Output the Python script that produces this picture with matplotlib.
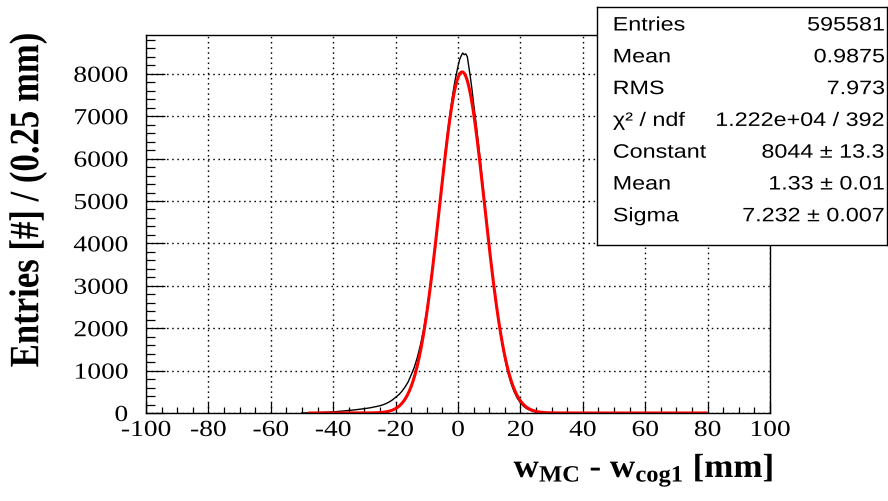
import numpy as np
import matplotlib
matplotlib.use("Agg")
import matplotlib.pyplot as plt
from matplotlib.ticker import MultipleLocator
from matplotlib.patheffects import AbstractPathEffect
from matplotlib.transforms import Affine2D

# Histogram of w_MC - w_cog1 (counts per 0.25 mm bin), sampled along the distribution
bin_centres_mm = [-50, -49, -48, -47, -46, -45, -44, -43, -42, -41, -40, -39, -38, -37,
                  -36, -35, -34, -33, -32, -31, -30, -29, -28, -27, -26, -25, -24, -23,
                  -22, -21, -20, -19, -18, -17, -16, -15, -14, -13, -12, -11, -10, -9,
                  -8, -7, -6, -5, -4, -3, -2, -1.5, -1, -0.5, 0, 0.5, 1, 1.5, 2, 2.5,
                  3, 3.5, 4, 4.5, 5, 6, 7, 8, 9, 10, 11, 12, 13, 14, 15, 16, 17, 18,
                  19, 20, 21, 22, 23, 24, 25, 26, 27, 28, 29, 30]
entries = [0, 0, 2, 4, 6, 9, 12, 15, 19, 23, 28, 33, 40, 46,
           53, 60, 67, 75, 84, 93, 103, 113, 125, 140, 155, 172, 195, 225,
           262, 310, 370, 430, 510, 610, 730, 900, 1080, 1320, 1620, 1980, 2420, 2950,
           3540, 4170, 4850, 5530, 6200, 6820, 7360, 7600, 7820, 8000, 8180, 8330, 8420, 8490, 8450, 8470,
           8400, 8150, 7900, 7620, 7300, 6700, 6050, 5350, 4650, 3960, 3300, 2700, 2160, 1690, 1290, 960, 700, 500,
           350, 240, 160, 105, 68, 42, 26, 15, 9, 5, 2, 0]

# Gaussian fit result
fit_constant = 8044.0
fit_mean = 1.33
fit_sigma = 7.232
fit_range = (-47.5, 79.5)

# Statistics box rows
stat_names = ["Entries", "Mean", "RMS", "\u03c7\u00b2 / ndf", "Constant", "Mean", "Sigma"]
stat_values = ["595581", "0.9875", "7.973", "1.222e+04 / 392",
               "8044 \u00b1 13.3", "1.33 \u00b1 0.01", "7.232 \u00b1 0.007"]

x_ticks = [-100, -80, -60, -40, -20, 0, 20, 40, 60, 80, 100]
y_ticks = [0, 1000, 2000, 3000, 4000, 5000, 6000, 7000, 8000]


class Stretch(AbstractPathEffect):
    """Draw text glyphs widened by (sx, sy) about an anchor of the glyph outline."""

    def __init__(self, sx=1.0, sy=1.0, anchor="center"):
        super().__init__()
        self.sx, self.sy, self.anchor = sx, sy, anchor

    def draw_path(self, renderer, gc, tpath, affine, rgbFace=None):
        ext = tpath.get_extents()
        cx = {"left": ext.x0, "right": ext.x1, "center": 0.5 * (ext.x0 + ext.x1)}[self.anchor]
        cy = 0.5 * (ext.y0 + ext.y1)
        t = Affine2D().translate(-cx, -cy).scale(self.sx, self.sy).translate(cx, cy) + affine
        renderer.draw_path(gc, tpath, t, rgbFace)


plt.rcParams["axes.unicode_minus"] = False
plt.rcParams["mathtext.fontset"] = "custom"
plt.rcParams["mathtext.rm"] = "Liberation Serif"
plt.rcParams["mathtext.bf"] = "Liberation Serif:bold"
plt.rcParams["mathtext.it"] = "Liberation Serif:italic"

W, H = 888, 501
WIDEN = 1.2
fig = plt.figure(figsize=(W / 100, H / 100), dpi=100)
fig.patch.set_facecolor("white")

ax_l, ax_r, ax_t, ax_b = 146, 770, 35, 413
ax = fig.add_axes([ax_l / W, 1 - ax_b / H, (ax_r - ax_l) / W, (ax_b - ax_t) / H])

ax.plot(bin_centres_mm, entries, color="black", lw=1.0, zorder=3)

xf = np.linspace(fit_range[0], fit_range[1], 600)
yf = fit_constant * np.exp(-0.5 * ((xf - fit_mean) / fit_sigma) ** 2)
ax.plot(xf, yf, color="#ff0000", lw=2.2, zorder=4)

ax.set_xlim(-100, 100)
ax.set_ylim(0, 1.05 * max(entries))

ax.set_xticks(x_ticks)
ax.set_yticks(y_ticks)
ax.xaxis.set_minor_locator(MultipleLocator(5))
ax.yaxis.set_minor_locator(MultipleLocator(200))
ax.tick_params(axis="both", which="both", direction="in", top=False, right=False, color="black")
ax.tick_params(axis="x", which="major", length=8, width=0.9, pad=5)
ax.tick_params(axis="x", which="minor", length=4, width=0.9)
ax.tick_params(axis="y", which="major", length=13.5, width=0.9, pad=13)
ax.tick_params(axis="y", which="minor", length=6.7, width=0.9)
for lab in ax.get_xticklabels():
    lab.set_fontfamily("Liberation Serif")
    lab.set_fontsize(16.5)
    lab.set_path_effects([Stretch(WIDEN, 1.0, "center")])
for lab in ax.get_yticklabels():
    lab.set_fontfamily("Liberation Serif")
    lab.set_fontsize(16.5)
    lab.set_path_effects([Stretch(WIDEN, 1.0, "right")])

ax.grid(True, which="major", color="black", linestyle=(0, (1.1, 2.6)), lw=1.0)
ax.set_axisbelow(True)
for s in ax.spines.values():
    s.set_linewidth(1.0)
    s.set_zorder(5)

ylab = fig.text(28 / W, 1 - 200 / H, "Entries [#] / (0.25 mm)", rotation=90,
                ha="center", va="center", fontfamily="Liberation Serif",
                fontweight="bold", fontsize=25)
ylab.set_path_effects([Stretch(1.0, WIDEN, "center")])
xlab = fig.text(774 / W, 1 - 470 / H, r"$\mathbf{w_{MC}}$ - $\mathbf{w_{cog1}}$ [mm]",
                ha="right", va="center", fontfamily="Liberation Serif",
                fontweight="bold", fontsize=24)
xlab.set_path_effects([Stretch(1.05, 1.0, "right")])

# Statistics box
bx_l, bx_r, bx_t, bx_b = 597, 887, 7, 245
sb = fig.add_axes([bx_l / W, 1 - bx_b / H, (bx_r - bx_l) / W, (bx_b - bx_t) / H], zorder=10)
sb.set_facecolor("white")
sb.set_xticks([])
sb.set_yticks([])
for s in sb.spines.values():
    s.set_linewidth(1.0)
bw, bh = bx_r - bx_l, bx_b - bx_t
for i, (name, val) in enumerate(zip(stat_names, stat_values)):
    yc = 26 + 31.8 * i
    yy = (bx_b - yc) / bh
    t1 = sb.text((613 - bx_l) / bw, yy, name, ha="left", va="center",
                 fontfamily="Liberation Sans", fontsize=14, transform=sb.transAxes)
    t1.set_path_effects([Stretch(WIDEN, 1.0, "left")])
    t2 = sb.text((885 - bx_l) / bw, yy, val, ha="right", va="center",
                 fontfamily="Liberation Sans", fontsize=14, transform=sb.transAxes)
    t2.set_path_effects([Stretch(WIDEN, 1.0, "right")])

fig.savefig("out.png", dpi=100)
